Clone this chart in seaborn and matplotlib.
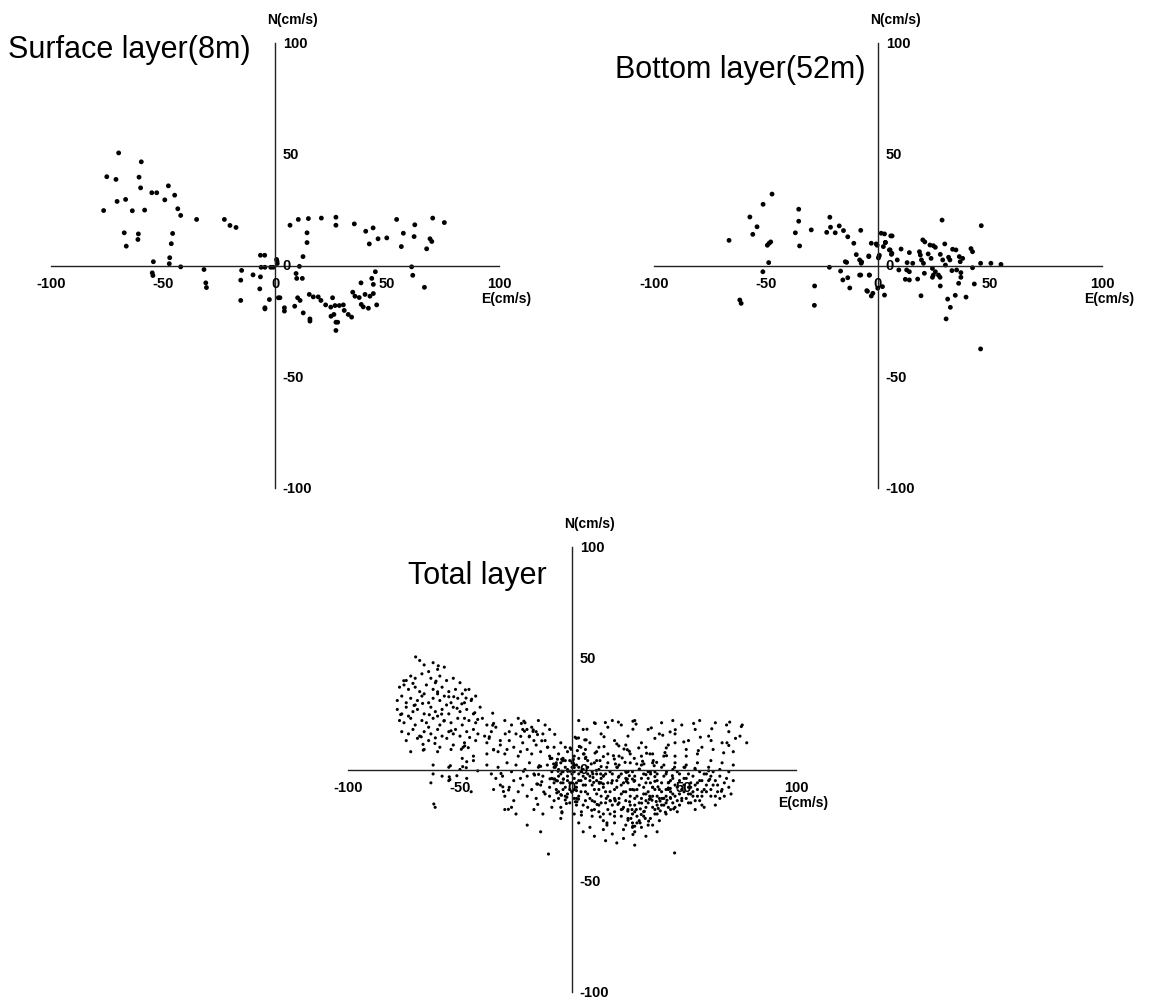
import matplotlib
matplotlib.use("Agg")
import matplotlib.pyplot as plt
import seaborn as sns
import pandas as pd

sns.set_theme(style="white")
plt.rcParams["font.family"] = ["Liberation Sans", "DejaVu Sans"]

# Current components (E, N) in cm/s, surface layer (8 m)
surface_e = [-69.8, -59.7, -75.1, -71.0, -60.7, -60.0, -47.6, -55.0, -52.8, -44.8,
             -70.5, -66.7, -49.2, -76.5, -63.7, -58.2, -43.4, -42.1, -35.0, -22.6,
             -20.1, -17.4, -67.3, -61.0, -61.2, -66.4, -45.7, -46.3, -47.0, -47.2,
             -54.3, -54.8, -54.5, -42.1, -31.7, -30.9, -30.6, -14.9, -15.3, -15.3,
             -9.8, -6.5, -6.8, -6.5, -4.6, -6.2, -4.5, -1.9, -0.8, 0.7,
             1.0, -2.5, -4.5, 1.5,
             6.7, 10.4, 14.9, 20.7, 27.2, 27.2, 35.4, 14.3, 14.3, 12.5,
             10.9, 40.5, 43.8, 42.1, 46.0, 49.9, 54.3, 57.3, 56.4, 62.4,
             62.1, 69.2, 70.0, 67.7, 70.4, 75.6, 61.0, 61.5, 66.7, 44.8,
             38.4, 43.2, 43.9, 9.4, 9.7, 12.2, 2.2, -4.5, 4.2, 4.2,
             8.8, 10.1, 11.2, 12.6, 15.6, 15.6, 15.3, 17.1, 19.3, 20.5,
             22.6, 25.7, 24.9, 26.8, 28.7, 25.0, 26.3, 27.2, 28.0, 27.2,
             30.5, 30.9, 32.7, 34.2, 34.7, 35.7, 37.6, 38.5, 39.4, 41.7,
             40.2, 42.4, 43.9, 45.4, 0.9]
surface_n = [50.6, 46.6, 39.9, 38.7, 39.7, 34.9, 35.8, 32.7, 32.7, 31.6,
             28.8, 29.7, 29.5, 24.7, 24.6, 24.9, 25.5, 22.5, 20.7, 20.7,
             18.0, 17.1, 14.7, 14.2, 11.7, 8.7, 14.4, 9.8, 3.5, 0.8,
             1.7, -3.3, -4.5, -0.6, -1.8, -7.8, -9.9, -2.2, -6.6, -15.7,
             -4.2, -5.1, -10.5, 4.6, 4.6, -0.8, -0.8, -0.8, -0.8, 2.7,
             0.9, -15.3, -19.5, -14.5,
             18.1, 20.7, 21.1, 21.3, 21.7, 18.1, 18.7, 14.7, 10.3, 4.0,
             -0.4, 15.4, 16.9, 9.7, 12.0, 12.4, 20.7, 14.5, 8.5, 18.3,
             13.0, 12.0, 10.8, 7.5, 21.3, 19.3, -0.6, -4.4, -9.8, -2.8,
             -7.8, -5.8, -8.5, -3.6, -5.8, -5.8, -14.5, -19.0, -19.0, -20.5,
             -18.3, -14.5, -15.7, -21.3, -24.0, -25.0, -13.0, -14.1, -14.1, -15.7,
             -17.7, -14.5, -18.7, -18.0, -18.0, -22.8, -22.0, -25.5, -25.5, -29.2,
             -17.7, -20.2, -22.0, -23.2, -12.0, -13.8, -14.4, -17.5, -18.6, -19.2,
             -13.0, -13.8, -12.6, -17.7, 1.9]

# Bottom layer (52 m)
bottom_e = [-47.3, -51.3, -57.2, -54.0, -55.9, -66.5, -48.6, -47.9, -49.4, -48.8,
            -51.4, -61.7, -61.1, -35.4, -35.4, -36.9, -35.0, -29.8, -28.3, -28.4,
            -21.5, -21.2, -22.9, -19.1, -17.3, -15.4, -13.5, -10.8, -7.7, -9.7,
            -14.6, -14.0, -7.3, -3.0, -4.1, -0.4, 0.4, 0.6, 0.2, 1.4,
            2.9, 6.3, 3.3, 5.1, 6.0, -21.7, -16.7, -15.7, -13.5, -12.6,
            -7.7, -3.9, -4.7, -3.0, -2.3, 2.9, 2.0,
            28.6, 46.1, 5.7, -0.8, 3.3, 2.4, 5.4, 6.2, 10.3, 14.0,
            20.0, 20.9, 23.2, 24.7, 25.6, 29.8, 33.3, 34.8, 41.5, 42.2,
            18.5, 18.9, 19.4, 20.3, 22.4, 23.7, 27.8, 28.9, 31.5, 32.1,
            36.3, 37.8, 36.7, -4.1, -7.5, 8.6, 9.3, 13.0, 15.5, 12.8,
            14.0, 12.2, 14.0, 17.7, 20.7, 24.3, 25.6, 24.7, 27.0, 27.7,
            24.3, 30.1, 33.0, 35.1, 37.0, 37.0, 42.2, 45.8, 50.4, 54.9,
            36.0, 43.0, 27.8, 19.2, 31.1, 34.5, 39.3, 32.3, 30.4, 45.8,
            -8.2, -3.8, -5.0, -0.1, -8.2]
bottom_n = [32.1, 27.5, 21.8, 17.4, 14.0, 11.3, 10.0, 10.6, 9.1, 1.3,
            -2.8, -15.5, -17.0, 25.3, 19.9, 14.7, 8.8, 16.0, -9.2, -17.9,
            21.7, 17.2, 14.9, 14.7, 17.8, 15.7, 12.9, 10.0, 15.8, 4.9,
            1.7, 1.4, 1.6, 10.0, 4.0, 9.1, 4.0, 4.6, 3.4, 14.5,
            14.2, 13.3, 10.3, 7.0, 5.0, -0.8, -2.5, -6.5, -5.5, -10.1,
            -4.3, -4.3, -11.6, -13.7, -12.5, -13.3, -9.5,
            20.4, 17.9, 13.3, 9.7, 10.4, 8.5, 7.0, 5.5, 7.4, 5.8,
            11.5, 10.6, 9.2, 8.9, 8.2, 9.7, 7.3, 7.0, 7.6, 6.2,
            6.2, 4.7, 2.5, 1.0, 5.2, 3.2, 5.0, 2.5, 3.7, 2.5,
            4.0, 3.2, 1.7, 4.3, 1.0, 2.5, -2.0, 1.3, 1.0, -2.0,
            -2.8, -6.2, -6.5, -6.1, -3.5, -1.3, -2.8, -4.3, -4.3, -5.3,
            -5.3, 0.2, -2.3, -2.0, -3.2, -5.3, -1.0, 1.0, 1.0, 0.5,
            -8.0, -8.3, -9.2, -13.6, -15.1, -13.4, -14.2, -18.8, -24.0, -37.5,
            -4.3, -4.3, -11.3, -10.2, 2.5]

# Intermediate depths (E, N), grouped by where they fall in the E-N plane
mid_west = [
    (-68, 49), (-66, 47), (-62, 48), (-60, 45), (-57, 46), (-64, 44),
    (-72, 42), (-70, 41), (-67, 43), (-63, 41), (-59, 42), (-56, 40), (-53, 41), (-50, 39), (-74, 40), (-61, 39),
    (-77, 37), (-75, 38), (-73, 36), (-70, 37), (-68, 35), (-65, 38), (-62, 36), (-58, 37), (-55, 35), (-52, 36),
    (-49, 34), (-46, 36), (-60, 34), (-66, 34),
    (-78, 31), (-76, 33), (-74, 30), (-72, 32), (-69, 31), (-67, 33), (-64, 30), (-62, 32), (-59, 31), (-57, 33),
    (-54, 30), (-51, 32), (-48, 30), (-45, 31), (-43, 33), (-70, 29), (-56, 29),
    (-78, 27), (-76, 25), (-74, 28), (-71, 26), (-69, 27), (-66, 25), (-63, 28), (-61, 26), (-58, 27), (-55, 25),
    (-53, 28), (-50, 26), (-47, 27), (-44, 25), (-41, 28), (-73, 24), (-60, 24), (-48, 23),
    (-77, 22), (-75, 21), (-72, 23), (-70, 20), (-67, 22), (-65, 21), (-62, 23), (-59, 20), (-57, 22), (-54, 21),
    (-51, 23), (-49, 20), (-46, 22), (-43, 21), (-40, 23), (-38, 20), (-64, 19), (-52, 18),
    (-76, 17), (-73, 16), (-71, 18), (-68, 15), (-66, 17), (-63, 16), (-60, 18), (-58, 15), (-55, 17), (-53, 16),
    (-50, 15), (-47, 17), (-44, 18), (-42, 16), (-39, 15), (-36, 17), (-34, 19),
    (-74, 13), (-69, 14), (-64, 13), (-59, 10), (-53, 11), (-48, 12), (-43, 13), (-37, 14), (-32, 13),
    (-72, 8), (-66, 9), (-60, 8), (-54, 9), (-49, 5), (-44, 6), (-38, 7), (-33, 8),
    (-62, 2), (-55, 1), (-50, 0), (-44, 4),
    (-62, -2), (-58, -3), (-55, -5), (-47, -4), (-63, -6),
]
mid_bridge = [
    (-30, 22), (-27, 20), (-24, 23), (-21, 21), (-18, 19), (-15, 22), (-12, 20), (-28, 17), (-25, 16), (-22, 18),
    (-19, 15), (-16, 17), (-13, 16), (-10, 18),
    (-38, 12), (-35, 9), (-32, 11), (-30, 7), (-28, 13), (-26, 10), (-24, 6), (-22, 12), (-20, 9), (-18, 7),
    (-16, 11), (-14, 8), (-12, 13), (-10, 6), (-8, 10), (-6, 7), (-29, 9), (-23, 8), (-17, 13), (-11, 10),
    (-38, 2), (-36, -2), (-33, 1), (-31, -3), (-29, 3), (-27, -1), (-25, 2), (-23, -4), (-21, 0), (-19, 3),
    (-17, -2), (-15, 1), (-13, -3), (-11, 2), (-9, -1), (-7, 3), (-5, -2), (-34, -4), (-26, -5), (-20, -3),
    (-35, -9), (-32, -7), (-30, -12), (-28, -8), (-26, -14), (-24, -10), (-22, -7), (-20, -12), (-18, -9), (-16, -13),
    (-14, -7), (-12, -11), (-10, -8), (-8, -14), (-6, -10), (-27, -17), (-17, -18), (-13, -20), (-9, -17),
]
mid_core = [
    (-4, 5), (-3, 1), (-2, -3), (-1, -6), (-4, -9), (-2, 8), (0, 3), (-3, -12), (-1, -15), (-5, 12), (-6, 0), (-7, -5),
    (1, 6), (2, 2), (3, -2), (4, -5), (1, -9), (3, -12), (2, -16), (4, 10), (5, 0), (1, -20), (3, -24),
    (6, 5), (7, 1), (8, -3), (9, -7), (6, -10), (8, -13), (7, -17), (9, -21), (10, 3), (6, 9), (8, -26),
    (11, 4), (12, 0), (13, -4), (14, -8), (11, -11), (13, -15), (12, -19), (14, -23), (15, -2), (11, 8), (14, -27),
    (16, 3), (17, -1), (18, -5), (19, -9), (16, -12), (18, -16), (17, -20), (19, -24), (20, 1), (16, 7), (18, -29),
    (21, 2), (22, -2), (23, -6), (24, -10), (21, -13), (23, -17), (22, -21), (24, -25), (25, -1), (21, 6), (23, -31),
    (26, 3), (27, -1), (28, -5), (29, -9), (26, -12), (28, -16), (27, -20), (29, -24), (30, 0), (26, 7), (28, -28),
    (31, 2), (32, -2), (33, -6), (34, -10), (31, -13), (33, -17), (32, -21), (34, -25), (35, -1), (31, 6),
    (36, 3), (37, -1), (38, -5), (39, -9), (36, -12), (38, -16), (37, -20), (39, -23), (40, 1), (36, 7),
    (41, 2), (42, -2), (43, -6), (44, -10), (41, -13), (43, -17), (42, -20), (45, 0), (41, 6),
    (46, 3), (47, -1), (48, -5), (49, -9), (46, -12), (48, -16), (47, -19), (50, 1), (46, 6),
    (51, 2), (52, -2), (53, -6), (54, -10), (51, -13), (53, -15), (55, 0), (51, 6),
    (56, 3), (57, -1), (58, -5), (59, -9), (56, -12), (60, -2), (56, 7),
    (61, 1), (62, -3), (63, -7), (65, -10), (62, 4), (66, 0), (64, -5), (67, 3),
    (-6, -3), (-4, -6), (-2, 0), (0, -2), (2, -6), (4, -1), (6, -4), (-5, 3), (-3, -8), (-1, 4),
    (1, -4), (3, 1), (5, -7), (7, -2), (-7, 2), (-8, -6), (0, -10), (2, -13), (-2, -11), (6, -14),
    (20, -8), (22, -11), (24, -4), (26, -9), (28, -13), (30, -7), (32, -11), (34, -4), (36, -8), (38, -12),
    (40, -6), (42, -9), (44, -13), (46, -7), (48, -11), (50, -4), (52, -8), (54, -12), (56, -6), (58, -10),
    (60, -7), (21, -15), (25, -18), (29, -21), (33, -14), (37, -18), (41, -16), (45, -15), (49, -14), (53, -11),
    (57, -14), (35, -22), (31, -26), (27, -24), (23, -27), (19, -19), (17, -14), (15, -10), (13, -6), (11, -2),
    (62, -12), (68, -6), (70, -1), (72, 2), (66, -13), (64, -16), (59, -17), (55, -18),
]
mid_core_dense = [
    (-9, -4), (-8, 1), (-7, -9), (-6, -13), (-5, -6), (-4, -1), (-3, 4), (-2, -5), (-1, -9), (-9, 5), (-10, -12), (-5, -17),
    (0, 1), (1, -1), (2, -8), (3, -5), (4, -10), (5, -3), (6, -7), (7, -11), (8, -5), (9, -1), (10, -9), (0, -6),
    (1, -13), (5, -16), (9, -14), (3, 5), (7, 4), (10, -18),
    (11, -5), (12, -9), (13, -12), (14, -3), (15, -15), (16, -6), (17, -10), (18, -2), (19, -13), (20, -5),
    (12, -16), (16, -18), (19, -21), (14, -20),
    (21, -3), (22, -7), (23, -10), (24, -14), (25, -6), (26, -16), (27, -9), (28, -3), (29, -12), (30, -15),
    (22, -18), (25, -22), (28, -19), (30, -23), (24, -1), (27, -26),
    (31, -4), (32, -8), (33, -11), (34, -15), (35, -6), (36, -17), (37, -9), (38, -2), (39, -13), (40, -16),
    (32, -19), (35, -13), (38, -20), (40, -10), (34, -1), (36, -25),
    (41, -3), (42, -12), (43, -9), (44, -5), (45, -11), (46, -17), (47, -8), (48, -2), (49, -13), (50, -7),
    (42, -15), (44, -18), (47, -14), (50, -10), (45, -4),
    (51, -4), (52, -11), (53, -8), (54, -3), (55, -14), (56, -9), (57, -5), (58, -12), (59, -2), (60, -10),
    (52, -15), (55, -7), (58, -16),
    (61, -5), (62, -9), (63, -1), (64, -12), (65, -7), (66, -3), (67, -9), (68, -12), (69, -4), (70, -8),
    (71, -11), (72, -5),
]
mid_north = [
    (2, 14), (5, 18), (8, 12), (10, 21), (13, 16), (16, 19), (19, 13), (22, 20), (25, 15), (28, 22),
    (31, 12), (34, 18), (37, 14), (40, 21), (43, 11), (46, 16), (49, 20), (52, 13), (55, 18), (58, 10),
    (61, 15), (64, 21), (67, 12), (70, 17), (73, 14), (76, 20), (78, 12), (3, 22), (12, 10), (18, 22),
    (24, 11), (33, 10), (39, 16), (45, 22), (51, 9), (57, 22), (63, 9), (69, 20), (72, 8), (75, 15),
]
mid_south = [
    (-10.5, -38), (-20, -25), (-14, -28), (-5, -22), (5, -28), (10, -30), (15, -32), (20, -33), (28, -34),
    (33, -30), (38, -28), (-25, -20), (-30, -18), (-45, -10),
]
middle = mid_west + mid_bridge + mid_core + mid_core_dense + mid_north + mid_south

total_e = surface_e + bottom_e + [p[0] for p in middle]
total_n = surface_n + bottom_n + [p[1] for p in middle]

ticks = [-100, -50, 0, 50, 100]
tick_text = ["-100", "-50", "0", "50", "100"]

W, H = 1150, 1003
fig = plt.figure(figsize=(W / 100, H / 100), dpi=100)
fig.patch.set_facecolor("white")

panels = [
    dict(rect=(51, 44), e=surface_e, n=surface_n, size=12,
         title="Surface layer(8m)", title_xy=(8, 50)),
    dict(rect=(654, 44), e=bottom_e, n=bottom_n, size=12,
         title="Bottom layer(52m)", title_xy=(615, 70)),
    dict(rect=(348, 548), e=total_e, n=total_n, size=5,
         title="Total layer", title_xy=(408, 576)),
]

for p in panels:
    left, top = p["rect"]
    ax = fig.add_axes([left / W, 1 - (top + 445) / H, 448 / W, 445 / H])
    df = pd.DataFrame({"E": p["e"], "N": p["n"]})
    sns.scatterplot(data=df, x="E", y="N", ax=ax, color="black", s=p["size"],
                    edgecolor="none", linewidth=0, legend=False)
    ax.set_xlim(-100, 100)
    ax.set_ylim(-100, 100)
    ax.set_facecolor("none")
    for side in ("top", "right"):
        ax.spines[side].set_visible(False)
    for side in ("left", "bottom"):
        ax.spines[side].set_position("zero")
        ax.spines[side].set_color("#222222")
        ax.spines[side].set_linewidth(1.0)
    ax.set_xticks(ticks)
    ax.set_yticks(ticks)
    ax.tick_params(axis="both", direction="inout", length=4, width=0.8,
                   color="#222222", labelleft=False, labelbottom=False)
    ax.set_xlabel("")
    ax.set_ylabel("")
    for v, t in zip(ticks, tick_text):
        ax.text(v, -4.5, t, ha="center", va="top", fontsize=10.5,
                fontweight="bold", color="black")
        ax.text(3.5, v, t, ha="left", va="center", fontsize=10.5,
                fontweight="bold", color="black")
    ax.text(8, 111, "N(cm/s)", ha="center", va="center", fontsize=10,
            fontweight="bold", color="black", clip_on=False)
    ax.text(103, -14.5, "E(cm/s)", ha="center", va="center", fontsize=10,
            fontweight="bold", color="black", clip_on=False)
    tx, ty = p["title_xy"]
    fig.text(tx / W, 1 - ty / H, p["title"], ha="left", va="center",
             fontsize=22, color="black")

fig.savefig("out.png", dpi=100, facecolor="white")
